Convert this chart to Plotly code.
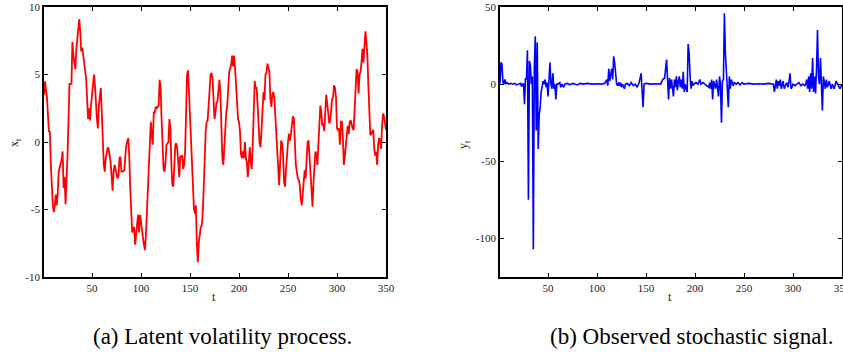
import plotly.graph_objects as go

# ---------------- data ----------------
# (a) latent volatility process x_t
t_x = [1,2,4,5,6,7,8,10,11,12,13,14,15,16,18,19,20,21,22,23,25,26,27,29,30,31,33,34,36,37,38,39,40,41,43,44,45,46,47,48,49,50,
       52,53,54,55,56,57,59,60,61,62,63,64,66,67,69,70,71,72,73,74,76,77,78,79,80,81,83,84,85,87,88,89,90,91,92,93,94,95,96,97,98,99,
       100,101,102,103,104,105,106,108,109,110,111,112,113,
       114,115,116,117,118,119,120,121,122,123,124,125,126,127,128,129,130,131,132,133,134,135,136,137,138,139,140,142,143,144,145,146,
       147,148,149,150,151,152,153,154,155,156,157,158,159,160,161,162,163,164,165,166,167,168,169,170,171,172,173,174,175,176,177,178,
       179,180,181,182,183,184,185,186,187,188,189,190,192,193,194,195,196,197,198,199,200,201,202,203,204,205,206,207,208,209,210,211,
       212,213,214,215,216,217,218,219,220,221,222,223,224,225,226,227,228,229,
       230,231,232,233,234,235,236,237,238,239,240,241,242,243,244,245,246,247,248,249,250,251,252,253,254,255,256,257,258,259,260,261,
       262,263,264,265,266,267,268,269,270,271,272,273,274,275,276,277,278,279,280,281,282,283,284,285,286,287,288,289,
       291,292,293,294,295,296,297,298,299,300,301,302,303,304,305,306,307,308,309,310,311,312,313,314,315,316,317,318,319,320,321,322,
       323,324,325,326,327,328,329,330,331,332,333,334,335,336,337,338,339,340,341,342,343,344,345,346,347,348,349,350]
x_vals = [3.5,4.5,3.3,1.5,0.8,0.75,-1.7,-4.7,-5.2,-4.7,-3.9,-4.7,-3.8,-2.2,-1.7,-1.3,-0.7,-3.4,-2.6,-4.6,-1.0,2.7,4.3,4.3,7.4,6.4,5.4,6.9,8.4,9.1,8.2,6.7,7.0,6.4,5.0,4.7,3.2,1.7,2.5,1.6,2.7,3.5,
          5.0,4.2,2.7,1.7,1.0,2.7,4.0,2.0,-0.5,-1.7,-2.2,-1.2,-0.4,-0.5,-1.5,-3.2,-3.6,-2.2,-1.7,-2.0,-2.7,-2.5,-1.2,-1.1,-2.2,-2.2,-2.1,-1.0,-0.2,0.3,-1.0,-3.4,-5.2,-6.7,-6.4,-6.3,-7.6,-6.7,-5.9,-5.4,-6.7,-5.4,
          -5.9,-6.7,-7.1,-7.6,-8.0,-6.9,-5.4,-2.2,0.0,1.5,0.5,-0.2,2.2,
          2.2,2.6,2.5,2.6,2.7,4.6,4.0,1.7,-0.5,-2.0,-2.2,-1.5,-0.2,-0.1,0.0,1.7,1.0,-1.7,-3.2,-3.3,-1.7,-0.2,-0.1,-0.5,-1.5,-2.6,-1.1,-1.0,-2.0,-1.7,-0.7,2.0,
          5.0,5.3,3.7,1.2,-0.5,-2.2,-3.7,-4.9,-5.3,-4.7,-7.6,-8.9,-7.4,-6.7,-6.3,-6.2,-5.2,-3.4,-1.2,0.8,1.5,1.6,2.7,4.0,5.0,5.1,4.7,3.2,1.7,2.2,2.9,3.0,
          4.2,4.6,3.7,1.0,-1.2,-1.7,-0.2,1.7,2.2,2.7,4.2,5.2,5.7,6.4,5.6,6.4,5.4,4.5,3.0,1.7,1.5,0.8,-0.9,-1.2,-0.7,-1.2,0.0,-1.2,-1.5,-2.6,-1.7,-0.4,
          -1.5,-2.0,-0.2,3.5,4.5,4.0,4.0,2.7,1.0,-0.1,-0.4,0.8,2.5,3.7,3.1,5.0,5.1,5.8,
          5.5,5.2,3.2,2.6,3.5,3.7,3.3,2.0,0.5,-1.2,-2.8,-3.2,-1.5,0.1,-0.1,-1.0,-3.0,-3.3,-2.0,-0.7,0.0,0.6,0.1,0.6,1.2,1.9,1.7,-0.2,-1.7,-2.2,-2.7,-2.8,
          -3.2,-4.2,-4.7,-3.9,-2.8,-2.1,-2.7,-1.0,0.0,0.1,-1.2,-2.7,-4.2,-4.8,-3.0,-1.5,-0.7,-0.9,-1.7,-0.2,2.0,2.7,2.2,1.2,1.4,0.8,2.2,3.5,
          2.2,1.4,1.5,2.2,3.2,3.3,4.2,4.0,3.3,1.0,0.9,1.0,-0.2,1.5,1.5,0.3,-1.7,-1.0,-0.2,0.9,1.2,0.6,1.5,1.6,1.2,1.0,0.9,2.2,4.2,5.4,5.2,3.6,
          5.0,5.2,5.9,6.9,5.9,7.4,8.2,7.4,6.4,4.2,2.2,0.5,0.6,0.8,0.9,-0.5,-1.0,-0.7,-1.7,-0.2,0.3,0.0,-0.5,1.2,2.1,1.9,1.2,0.9]

# (b) observed stochastic signal y_t
t_y = [1,2,3,4,5,6,7,8,10,12,14,16,18,20,22,23,24,25,26,27,28,29,30,31,32,33,34,35,36,37,38,39,40,41,42,43,44,45,46,47,48,49,50,
       51,52,53,54,55,56,57,58,59,60,62,63,64,66,67,70,72,75,78,80,83,86,90,95,100,105,108,109,110,111,112,113,114,115,116,117,118,
       119,120,121,122,123,124,125,126,128,129,131,133,135,137,139,141,143,145,147,148,150,155,160,165,167,169,171,172,173,174,175,
       176,177,178,179,180,181,182,183,184,185,186,187,188,189,190,191,192,193,194,195,196,197,198,199,201,203,205,206,208,210,212,
       214,215,216,217,218,219,220,221,222,223,224,225,226,227,228,229,230,231,232,233,234,235,236,237,238,239,240,242,244,246,248,
       250,255,260,265,270,275,280,281,282,283,284,285,286,287,288,289,290,291,292,293,294,295,296,297,298,299,300,302,304,306,308,
       310,312,313,314,315,316,317,318,319,320,321,322,323,324,325,326,327,328,329,330,331,332,333,334,335,336,337,338,339,340,342,
       344,346,348,350]
y_vals = [0.5,14,13,1,0,3,0,1,0,0.5,0,0.5,-0.5,0,0.5,-1.5,0,0,-13,4,3,22,-75,15,12,0,5,-107,10,31,-30,27,-42,-20,-15,-5,0,2,0,3,-2,1,-8,
          0,14,0,-3,7,-3,0,-10,0,0,1,-2,0,-2,0,0.5,-0.5,0.5,0,-0.5,0.5,0,0.5,0,0.3,0,0.5,2,3,-1,10,2,8,10,3,18,14,
          4,0,-1,1,-1,1,-2,0,-3,0,0.5,-1,1,-1,0,-2,1,7,-15,0,0.5,0,0.3,0,3,4,16,2,-10,4,-3,
          3,-5,-8,3,-2,5,-4,2,5,-2,3,-3,8,-5,0,-3,-5,26,20,5,-3,2,-1,0,1,0,3,0,1,0,-1,
          -2,1,-3,3,-10,2,0,-3,3,-5,-8,5,0,-25,2,3,46,20,8,-2,-15,5,-3,3,0,-1,1,0,1,-0.5,1,
          0,0.5,0,0.3,0,0.5,0,-5,0,3,-3,2,-1,3,-3,0,2,-3,-1,0,1,-2,2,7,-3,-2,0,-1,0,1,-1,
          0,-1,0,3,-3,5,-5,7,-3,17,-5,5,-6,10,35,5,0,17,-5,-17,5,0,-3,3,-2,0,2,-1,-3,0,-3,
          2,-1,-3,0]

x_ticks = [50, 100, 150, 200, 250, 300, 350]
y1_ticks = [-10, -5, 0, 5, 10]
y2_ticks = [-100, -50, 0, 50]

# ---------------- figure ----------------
W, H = 843, 360
SERIF = "Liberation Serif"
fig = go.Figure()
fig.add_trace(go.Scatter(x=t_x, y=x_vals, mode="lines", line=dict(color="#ff0000", width=1.8),
                         xaxis="x", yaxis="y", showlegend=False, hoverinfo="skip"))
fig.add_trace(go.Scatter(x=t_y, y=y_vals, mode="lines", line=dict(color="#0000ff", width=1.6),
                         xaxis="x2", yaxis="y2", showlegend=False, hoverinfo="skip"))

tickfont = dict(family=SERIF, size=11, color="#222222")
axis_common = dict(showline=True, linecolor="black", linewidth=1.6, mirror="ticks", ticks="inside",
                   ticklen=4, tickwidth=1.4, tickcolor="black", showgrid=False, zeroline=False,
                   automargin=False, tickfont=tickfont)

def px(x):
    return x / W

def py(y):
    return 1 - y / H

fig.update_layout(
    template="none",
    width=W, height=H, margin=dict(l=0, r=0, t=0, b=0, pad=0),
    paper_bgcolor="white", plot_bgcolor="white",
    font=dict(family=SERIF),
    xaxis=dict(domain=[px(44), px(386)], range=[1, 350], anchor="y", ticklabeloverflow="allow",
               tickvals=x_ticks, ticktext=[str(v) for v in x_ticks], **axis_common),
    yaxis=dict(domain=[py(277), py(7)], range=[-10, 10], anchor="x",
               tickvals=y1_ticks, ticktext=[str(v) for v in y1_ticks], **axis_common),
    xaxis2=dict(domain=[px(500), px(842)], range=[1, 350], anchor="y2", ticklabeloverflow="allow",
                tickvals=x_ticks, ticktext=[str(v) for v in x_ticks], **axis_common),
    yaxis2=dict(domain=[py(277), py(7)], range=[-125, 50], anchor="x2",
                tickvals=y2_ticks, ticktext=[str(v) for v in y2_ticks], **axis_common),
)

label_font = dict(family=SERIF, size=12, color="#222222")
cap_font = dict(family=SERIF, size=23, color="black")
ann = [
    dict(x=px(214), y=py(297), text="t", font=label_font),
    dict(x=px(670), y=py(297), text="t", font=label_font),
    dict(x=px(15), y=py(143), text="x<sub>t</sub>", font=label_font, textangle=-90),
    dict(x=px(464), y=py(145), text="y<sub>t</sub>", font=label_font, textangle=-90),
    dict(x=px(222), y=py(336), text="(a) Latent volatility process.", font=cap_font),
    dict(x=px(692), y=py(336), text="(b) Observed stochastic signal.", font=cap_font),
]
for a in ann:
    fig.add_annotation(xref="paper", yref="paper", showarrow=False, xanchor="center", yanchor="middle", **a)

fig.write_html("out.html")
